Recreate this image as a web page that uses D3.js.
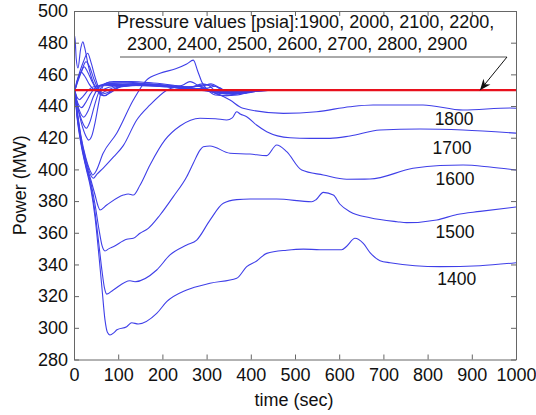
<!DOCTYPE html>
<html><head><meta charset="utf-8">
<script src="https://cdn.jsdelivr.net/npm/d3@7"></script>
<style>
body{margin:0;background:#fff;}
text{font-family:"Liberation Sans",Arial,Helvetica,sans-serif;fill:#111;}
</style></head>
<body><svg id="c" width="536" height="415"></svg>
<script>
// ---- data (time in sec, power in MW) ----
const xTicks = [0,100,200,300,400,500,600,700,800,900,1000];
const yTicks = [280,300,320,340,360,380,400,420,440,460,480,500];
const setpoint = 450;
const annotationLines = ["Pressure values [psia]:1900, 2000, 2100, 2200,",
                         "2300, 2400, 2500, 2600, 2700, 2800, 2900"];

const s1400 = [[0,450],[1.1,450],[6.8,433],[15.8,416],[27.1,401],[38.5,387],[47.5,370],[56.6,345],[63.3,325],[70.1,305],[75.8,297],[81.4,295.5],[90.5,297],[97.3,298.8],[119.2,300.7],[130.5,303.2],[145.5,302.4],[187.1,309.1],[209.7,316.5],[255,323.9],[307.7,328.1],[368.1,331.3],[390.7,338.6],[413.3,342.2],[436,347],[481.2,349],[518.8,349.7],[556.6,349.3],[605.7,349.3],[617,351.5],[635.7,356.5],[654.5,353.3],[669.7,347.5],[692.3,342.4],[714.9,341.1],[828.1,338.6],[918.6,339.2],[1000,341.1]];
const s1500 = [[0,450],[1.1,450],[6.8,434],[15.8,417],[27.1,402],[38.5,389],[47.5,373],[56.6,352],[63.3,336],[69,325],[74,321.3],[88.9,323.9],[126.7,329.7],[138,329.1],[187.1,336.5],[217.2,346],[255,352.3],[277.6,355.4],[307.7,368],[337.8,378.6],[368.1,380.9],[398.2,381.3],[458.6,381.3],[537.8,379.6],[548,381],[564,385.5],[586.7,383.8],[601.8,378],[624.4,373.3],[669.7,369.5],[730.8,367],[752.7,366.4],[820.6,368.1],[866.5,371.5],[918.6,373.5],[1000,376.3]];
const s1600 = [[0,450],[1.1,450],[6.8,435],[15.8,418],[27.1,403],[38.5,391],[47.5,378],[56.6,362],[63.3,352],[70.1,348.5],[79.2,350],[88.9,351.2],[119.2,355.9],[134.2,356.5],[149.3,359.7],[168.1,362.8],[194.6,371.2],[224.7,382.8],[255,395.4],[269.9,403.9],[285.1,412.2],[292.5,414.3],[307.7,414.8],[352.9,410.2],[398.2,409.7],[436,408.7],[458.6,415.4],[481.2,411.2],[515.2,399.6],[564,396.5],[617,393.8],[669.7,393.9],[767,400.7],[828.1,402.5],[880.1,402.8],[941,401.5],[1000,399.6]];
const s1700 = [[0,450],[1.1,450],[6.8,436],[15.8,419],[27.1,404],[38.5,393],[47.5,384],[54.3,377],[58.8,374.4],[74,377.5],[111.5,383.8],[122.9,384.5],[134.2,383.8],[149.3,390],[171.9,402.8],[205.9,418.6],[239.8,427.4],[285.1,432.3],[320,432],[345.5,431.2],[358,432.5],[368.1,436.4],[376,435],[390.7,433.3],[413,428],[436,423.8],[488.7,420],[533.9,419.6],[579.2,419.6],[624.4,421.1],[692.3,424.9],[782.8,425.5],[880.1,424.9],[1000,422.9]];
const s1800 = [[0,450],[1.1,450],[6.8,437],[15.8,420],[27.1,406],[38.5,396],[43.7,394.4],[52,397],[65.6,400.7],[90,408],[111.5,415],[141.9,431.2],[171.9,440.7],[209.7,450],[246.6,453.3],[262.4,455.4],[285.1,452.2],[352.9,443.8],[382.4,438.6],[473.5,435.4],[549.1,436.4],[624.4,439.6],[676.5,440.7],[789.6,440.7],[880.1,437.5],[986.4,438.8],[1000,438.6]];
const s1900 = [[0,450],[1.1,450],[6.8,438],[15.8,421],[27.1,407],[38.5,398],[42,396.5],[50,399],[65.6,410],[96.6,422.8],[134.2,443.8],[164,456.4],[194.6,460.7],[230,463.5],[255,466.5],[269.9,469],[280,462],[288.9,455.4],[303.2,450],[320,447],[345,446.5],[370,448],[400,449.5],[450,450],[1000,450]];
const s2000 = [[0,450],[1,450],[7,441],[16,430],[27,421],[33,418.5],[40,421],[48,430],[56,442],[62,450],[70,454],[90,455.5],[130,455.5],[180,454.5],[230,453],[260,452],[280,452.5],[300,451],[320,448],[340,446.5],[370,447],[400,449],[440,450],[1000,450]];
const s2100 = [[0,450],[1,450],[7,441],[16,432],[28,426],[36,430],[46,440],[55,448],[62,452],[80,455],[120,455],[170,454],[220,453],[262,452],[290,454],[305,453],[320,449.5],[345,447.5],[375,448],[410,449.5],[450,450],[1000,450]];
const s2200 = [[0,450],[1,450],[7,442],[14,436],[22,433],[32,437],[44,446],[54,451],[70,454],[110,454.5],[160,454],[210,452.5],[255,451.5],[300,453.5],[320,452.5],[340,449],[360,447.5],[390,448.5],[430,450],[1000,450]];
const s2300 = [[0,450],[1,450],[6,444],[12,440],[17,439],[26,442],[38,448],[50,452],[70,453.5],[120,453.5],[180,453],[240,452],[290,452.5],[310,454],[330,451.5],[350,448.5],[380,448],[420,449.5],[460,450],[1000,450]];
const s2400 = [[0,450],[1,450],[6,446],[12,444],[20,446],[32,450],[48,452.5],[80,453],[140,453],[200,452.5],[250,451.5],[295,451],[320,452.5],[335,450.5],[360,448.5],[400,449],[450,450],[1000,450]];
const s2500 = [[0,450],[1,450],[6,455],[16,461.5],[24,459],[34,454],[46,450],[56,449],[66,450.5],[90,452.5],[140,453],[200,452.5],[250,451],[290,450],[320,449],[350,448.5],[390,449.5],[440,450],[1000,450]];
const s2600 = [[0,450],[1,450],[8,455],[16,461],[23,464.8],[30,462],[40,456],[52,450],[60,448],[72,449.5],[100,452.5],[150,453],[210,452],[260,450.5],[300,449.5],[330,448],[360,448],[400,449.5],[450,450],[1000,450]];
const s2700 = [[0,450],[1,450],[8,456],[18,463],[27,468],[35,465],[45,457],[56,450],[64,447.5],[76,448.5],[100,452],[150,453.5],[210,452.5],[265,451],[300,450],[330,448.5],[365,448.5],[410,449.5],[460,450],[1000,450]];
const s2800 = [[0,450],[1,450],[8,457],[20,467],[31,473.3],[38,468],[48,458],[58,450],[66,446.5],[80,448],[105,452],[160,453.5],[220,452.5],[270,451],[305,450],[335,449],[370,449],[420,450],[1000,450]];
const s2900 = [[0,450],[2,484],[5,470],[9,464],[15,476],[20,480.6],[24,477],[32,466],[42,456],[52,450.5],[60,447],[70,446.5],[85,449.5],[110,452.5],[170,453.5],[230,452],[280,450.5],[310,449.5],[340,449],[380,449.5],[430,450],[1000,450]];

const series = [s1400,s1500,s1600,s1700,s1800,s1900,s2000,s2100,s2200,s2300,s2400,s2500,s2600,s2700,s2800,s2900];
const curveLabels = ["1800","1700","1600","1500","1400"];
const curveLabelT = [860,855,862,862,866];
const curveLabelP = [428,410,390,356.5,327];

// ---- drawing ----
const svg = d3.select("#c");
const L=74, R=516, T=11, B=359.5;
const x = d3.scaleLinear([0,1000],[L,R]);
const y = d3.scaleLinear([280,500],[B,T]);
const axisColor = "#666";

const line = d3.line().x(d=>x(d[0])).y(d=>y(d[1])).curve(d3.curveMonotoneX);
const g = svg.append("g");
g.append("defs").append("clipPath").attr("id","clip").append("rect")
  .attr("x",L).attr("y",T).attr("width",R-L).attr("height",B-T);
const plot = g.append("g").attr("clip-path","url(#clip)");
series.forEach(s=>{
  plot.append("path").attr("d",line(s)).attr("fill","none")
    .attr("stroke","#3f3fe8").attr("stroke-width",1.1);
});
plot.append("line").attr("x1",x(0)).attr("x2",x(1000))
  .attr("y1",y(setpoint)).attr("y2",y(setpoint))
  .attr("stroke","#e8101c").attr("stroke-width",2.2);

function styleAxis(sel){
  sel.select(".domain").attr("stroke",axisColor);
  sel.selectAll(".tick line").attr("stroke",axisColor);
  sel.selectAll("text").attr("font-size","18px").attr("fill","#111")
     .attr("font-family","Liberation Sans, Arial, sans-serif");
}
const fmt = d3.format("d");
svg.append("g").attr("transform",`translate(0,${B})`)
  .call(d3.axisBottom(x).tickValues(xTicks).tickFormat(fmt).tickSizeInner(-5).tickSizeOuter(0).tickPadding(9))
  .call(styleAxis);
svg.append("g").attr("transform",`translate(${L},0)`)
  .call(d3.axisLeft(y).tickValues(yTicks).tickFormat(fmt).tickSizeInner(-5).tickSizeOuter(0).tickPadding(6))
  .call(styleAxis);
svg.append("g").attr("transform",`translate(0,${T})`)
  .call(d3.axisTop(x).tickValues(xTicks).tickFormat("").tickSizeInner(-5).tickSizeOuter(0))
  .call(styleAxis);
svg.append("g").attr("transform",`translate(${R},0)`)
  .call(d3.axisRight(y).tickValues(yTicks).tickFormat("").tickSizeInner(-5).tickSizeOuter(0))
  .call(styleAxis);
svg.selectAll(".tick text").filter(function(){return this.textContent==="";}).remove();

// axis titles
svg.append("text").attr("x",(L+R)/2-1).attr("y",406).attr("text-anchor","middle")
  .attr("font-size","18px").text("time (sec)");
svg.append("text").attr("transform",`translate(26,${(T+B)/2}) rotate(-90)`)
  .attr("text-anchor","middle").attr("font-size","18px").text("Power (MW)");

// curve labels
curveLabels.forEach((t,i)=>{
  svg.append("text").attr("x",x(curveLabelT[i])).attr("y",y(curveLabelP[i]))
    .attr("text-anchor","middle").attr("font-size","17.5px").text(t);
});

// annotation
svg.append("text").attr("x",117).attr("y",28).attr("font-size","18px").text(annotationLines[0]);
svg.append("text").attr("x",127).attr("y",50).attr("font-size","18px").text(annotationLines[1]);
svg.append("line").attr("x1",120).attr("x2",507).attr("y1",57).attr("y2",57)
  .attr("stroke","#555").attr("stroke-width",1);
const ax0=507, ay0=57, ax1=480, ay1=y(setpoint);
svg.append("line").attr("x1",ax0).attr("y1",ay0).attr("x2",ax1).attr("y2",ay1)
  .attr("stroke","#111").attr("stroke-width",1);
const ang = Math.atan2(ay1-ay0, ax1-ax0);
const hl=11, hw=4.5;
const bx = ax1 - hl*Math.cos(ang), by = ay1 - hl*Math.sin(ang);
const mx = ax1 - 0.7*hl*Math.cos(ang), my = ay1 - 0.7*hl*Math.sin(ang);
svg.append("path").attr("d",`M${ax1},${ay1}L${bx+hw*Math.sin(ang)},${by-hw*Math.cos(ang)}L${mx},${my}L${bx-hw*Math.sin(ang)},${by+hw*Math.cos(ang)}Z`)
  .attr("fill","#111");
</script></body></html>
